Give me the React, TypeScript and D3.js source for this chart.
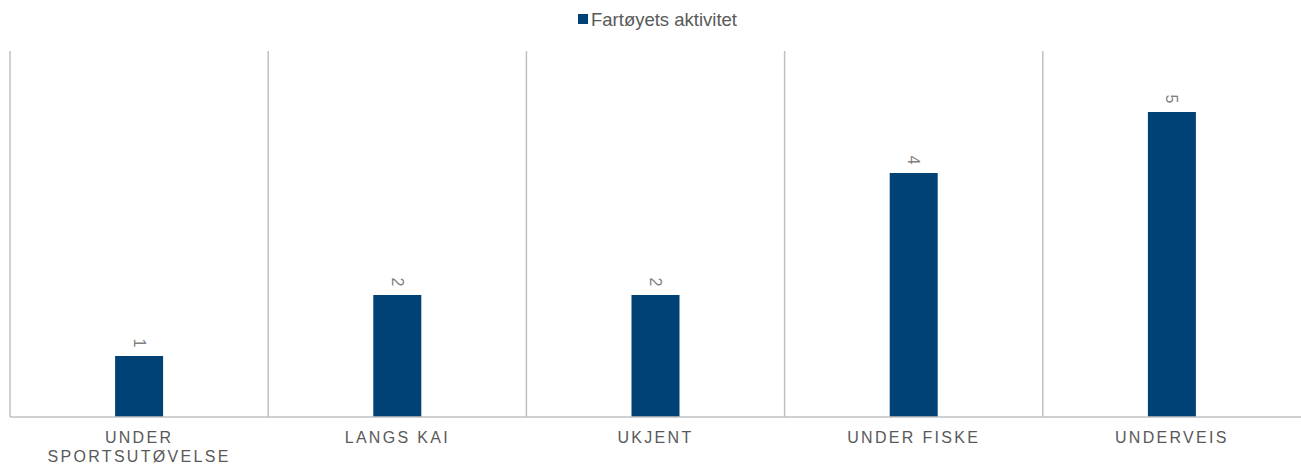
import React from "react";
import * as d3 from "d3";

const categories = ["UNDER SPORTSUTØVELSE", "LANGS KAI", "UKJENT", "UNDER FISKE", "UNDERVEIS"];
const categoryLines = [["UNDER", "SPORTSUTØVELSE"], ["LANGS KAI"], ["UKJENT"], ["UNDER FISKE"], ["UNDERVEIS"]];
const values = [1, 2, 2, 4, 5];
const seriesName = "Fartøyets aktivitet";

const W = 1301, H = 467;
const left = 10, right = 1301, top = 51, bottom = 417;
const barColor = "#004276";
const gridColor = "#c0c0c0";
const textColor = "#595959";
const font = "'Liberation Sans', Arial, sans-serif";

export default function App() {
  const x = d3.scaleBand<string>().domain(categories).range([left, right]);
  const y = d3.scaleLinear().domain([0, 6]).range([bottom, top]);
  const bw = 48;
  const boundaries = categories.map((c) => x(c)!);
  return (
    <svg width={W} height={H} style={{ position: "absolute", left: 0, top: 0 }} fontFamily={font}>
      <rect x={0} y={0} width={W} height={H} fill="#fff" />
      {/* legend */}
      <rect x={578} y={14} width={10} height={10} fill={barColor} />
      <text x={591} y={25.5} fontSize={18.5} fill={textColor}>{seriesName}</text>
      {/* category separators */}
      {boundaries.map((b, i) => (
        <line key={i} x1={b} x2={b} y1={top} y2={bottom} stroke={gridColor} strokeWidth={1.5} />
      ))}
      {/* bars */}
      {categories.map((c, i) => {
        const cx = x(c)! + x.bandwidth() / 2;
        return (
          <g key={c}>
            <rect x={cx - bw / 2} y={y(values[i])} width={bw} height={y(0) - y(values[i])} fill={barColor} />
            <text
              transform={`translate(${cx},${y(values[i]) - 13}) rotate(90)`}
              textAnchor="middle"
              dominantBaseline="central"
              fontSize={16}
              fill="#808080"
            >
              {values[i]}
            </text>
            {categoryLines[i].map((ln, j) => (
              <text key={j} x={cx} y={443 + j * 19} textAnchor="middle" fontSize={16} letterSpacing={2.3} fill={textColor}>
                {ln}
              </text>
            ))}
          </g>
        );
      })}
      {/* baseline */}
      <line x1={left} x2={right} y1={bottom} y2={bottom} stroke={gridColor} strokeWidth={1.5} />
    </svg>
  );
}
